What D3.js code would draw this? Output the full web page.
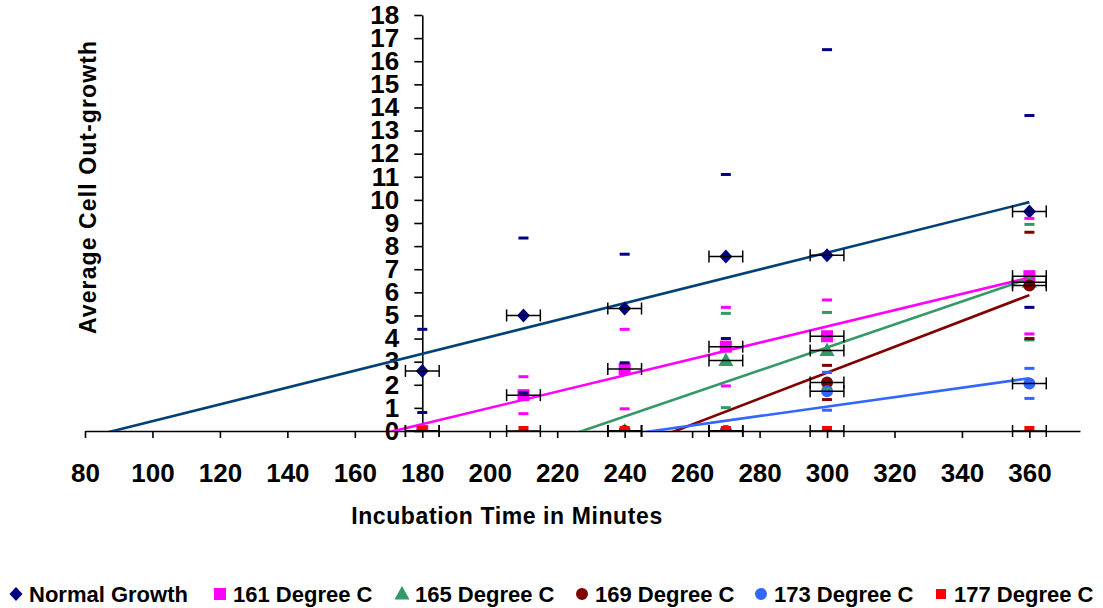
<!doctype html>
<html lang=en>

<head>
  <meta charset=utf-8>
  <title>Average Cell Out-growth</title>
  <style>
    body { margin: 0; background: #fff; }
    text { font-family: Arial, "Liberation Sans", sans-serif; }
  </style>
</head>

<body>
  <svg></svg>
  <script src="https://d3js.org/d3.v7.min.js"></script>
  <script>
    // ---- data ----
    var times = [180, 210, 240, 270, 300, 360];
    var timeErr = 5;

    var normalTimes = [180, 210, 240, 270, 300, 360];
    var normalVals = [2.6, 5.0, 5.3, 7.55, 7.6, 9.5];
    var normalErr = [1.8, 3.35, 2.35, 3.55, 8.9, 4.15];

    var deg161Times = [180, 210, 240, 270, 300, 360];
    var deg161Vals = [0, 1.55, 2.68, 3.65, 4.1, 6.7];
    var deg161Err = [0, 0.8, 1.72, 1.7, 1.57, 2.5];

    var deg165Times = [240, 270, 300, 360];
    var deg165Vals = [0, 3.05, 3.48, 6.44];
    var deg165Err = [0, 2.04, 1.65, 2.5];

    var deg169Times = [240, 270, 300, 360];
    var deg169Vals = [0, 0, 2.1, 6.3];
    var deg169Err = [0, 0, 0.74, 2.3];

    var deg173Times = [270, 300, 360];
    var deg173Vals = [0, 1.72, 2.06];
    var deg173Err = [0, 0.82, 0.65];

    var deg177Times = [180, 210, 240, 270, 300, 360];
    var deg177Vals = [0, 0, 0, 0, 0, 0];

    var seriesNames = ["Normal Growth", "161 Degree C", "165 Degree C",
      "169 Degree C", "173 Degree C", "177 Degree C"];
    var xTicks = [80, 100, 120, 140, 160, 180, 200, 220, 240, 260, 280, 300, 320, 340, 360];
    var yTicks = d3.range(0, 19);

    // ---- styles ----
    var markerColors = ["#000080", "#ff00ff", "#339966", "#800000", "#3366ff", "#ff0000"];
    var lineColors = ["#004077", "#ff00ff", "#339966", "#800000", "#3366ff", "#ff0000"];
    var shapes = ["diamond", "square", "triangle", "circle", "circle", "smallsquare"];

    var series = [
      { t: normalTimes, v: normalVals, e: normalErr },
      { t: deg161Times, v: deg161Vals, e: deg161Err },
      { t: deg165Times, v: deg165Vals, e: deg165Err },
      { t: deg169Times, v: deg169Vals, e: deg169Err },
      { t: deg173Times, v: deg173Vals, e: deg173Err },
      { t: deg177Times, v: deg177Vals, e: deg177Vals }
    ].map(function (s, i) {
      return {
        name: seriesNames[i], color: markerColors[i], lineColor: lineColors[i], shape: shapes[i],
        points: s.t.map(function (t, j) { return { x: t, y: s.v[j], e: s.e[j] }; })
      };
    });

    var width = 1103;
    var height = 608;

    var svg = d3.select("svg")
      .attr("width", width)
      .attr("height", height);

    var x = d3.scaleLinear().domain([80, 375]).range([85, 1080]);
    var y = d3.scaleLinear().domain([0, 18]).range([431, 15]);

    function shapePath(shape) {
      if (shape == "diamond") return "M0,-7L6.5,0L0,7L-6.5,0Z";
      if (shape == "square") return "M-6,-6H6V6H-6Z";
      if (shape == "smallsquare") return "M-5,-5H5V5H-5Z";
      if (shape == "triangle") return "M0,-8L7.5,5.5H-7.5Z";
      return d3.symbol(d3.symbolCircle, 113)();
    }

    // least squares trend line, like the spreadsheet's linear trendline
    function linReg(pts) {
      var mx = d3.mean(pts, function (d) { return d.x; });
      var my = d3.mean(pts, function (d) { return d.y; });
      var sxy = d3.sum(pts, function (d) { return (d.x - mx) * (d.y - my); });
      var sxx = d3.sum(pts, function (d) { return (d.x - mx) * (d.x - mx); });
      var b = sxy / sxx;
      return function (xv) { return my + b * (xv - mx); };
    }

    svg.append("clipPath").attr("id", "plot")
      .append("rect")
      .attr("x", x(80)).attr("y", y(18))
      .attr("width", x(375) - x(80)).attr("height", y(0) - y(18));

    // axes
    var xAxis = svg.append("g")
      .attr("transform", "translate(0," + y(0) + ")")
      .call(d3.axisBottom(x).tickValues(xTicks).tickSize(7).tickSizeOuter(0).tickPadding(26));
    xAxis.selectAll("text").style("font-size", "26px").style("font-weight", "bold").attr("fill", "#000");

    var yAxis = svg.append("g")
      .attr("transform", "translate(" + x(180) + ",0)")
      .call(d3.axisLeft(y).tickValues(yTicks).tickSize(8).tickSizeOuter(0).tickPadding(15));
    yAxis.selectAll("text").style("font-size", "26px").style("font-weight", "bold").attr("fill", "#000");

    svg.selectAll(".domain").attr("stroke", "#000").attr("stroke-width", 1.6);
    svg.selectAll(".tick line").attr("stroke", "#000").attr("stroke-width", 1.6);

    // trendlines
    var plot = svg.append("g").attr("clip-path", "url(#plot)");
    var line = d3.line()
      .x(function (d) { return x(d[0]); })
      .y(function (d) { return y(d[1]); });

    series.forEach(function (s) {
      if (d3.max(s.points, function (d) { return d.y; }) == 0) return;
      var f = linReg(s.points);
      plot.append("path")
        .datum([[80, f(80)], [360, f(360)]])
        .attr("fill", "none")
        .attr("stroke", s.lineColor)
        .attr("stroke-width", 2.6)
        .attr("d", line);
    });

    // markers
    series.forEach(function (s) {
      plot.append("g").selectAll("path")
        .data(s.points)
        .join("path")
        .attr("transform", function (d) { return "translate(" + x(d.x) + "," + y(d.y) + ")"; })
        .attr("d", shapePath(s.shape))
        .attr("fill", s.color);
    });

    // horizontal error bars (time)
    var errG = svg.append("g").attr("stroke", "#000").attr("stroke-width", 1.5);
    series.forEach(function (s) {
      s.points.forEach(function (d) {
        var x0 = x(d.x - timeErr), x1 = x(d.x + timeErr), yy = y(d.y);
        errG.append("line").attr("x1", x0).attr("x2", x1).attr("y1", yy).attr("y2", yy);
        errG.append("line").attr("x1", x0).attr("x2", x0).attr("y1", yy - 6).attr("y2", yy + 6);
        errG.append("line").attr("x1", x1).attr("x2", x1).attr("y1", yy - 6).attr("y2", yy + 6);
      });
    });

    // vertical error bar caps
    series.forEach(function (s) {
      var caps = [];
      s.points.forEach(function (d) {
        if (d.e > 0) {
          caps.push({ x: d.x, y: d.y + d.e });
          caps.push({ x: d.x, y: d.y - d.e });
        }
      });
      plot.append("g").selectAll("rect")
        .data(caps)
        .join("rect")
        .attr("x", function (d) { return x(d.x) - 5; })
        .attr("y", function (d) { return y(d.y) - 1.5; })
        .attr("width", 10)
        .attr("height", 3)
        .attr("fill", s.color);
    });

    // axis titles
    svg.append("text")
      .attr("transform", "translate(96,187) rotate(-90)")
      .attr("text-anchor", "middle")
      .style("font-size", "23px")
      .style("font-weight", "bold")
      .style("letter-spacing", "1.1px")
      .text("Average Cell Out-growth");

    svg.append("text")
      .attr("x", 507)
      .attr("y", 524)
      .attr("text-anchor", "middle")
      .style("font-size", "23px")
      .style("font-weight", "bold")
      .style("letter-spacing", "0.6px")
      .text("Incubation Time in Minutes");

    // legend
    var legendX = [16, 220, 402, 582, 761, 941];
    var legend = svg.append("g").selectAll("g")
      .data(series)
      .join("g")
      .attr("transform", function (d, i) { return "translate(" + legendX[i] + ",594)"; });
    legend.append("path")
      .attr("d", function (d) { return shapePath(d.shape); })
      .attr("fill", function (d) { return d.color; });
    legend.append("text")
      .attr("x", 13)
      .attr("y", 8)
      .style("font-size", "22px")
      .style("font-weight", "bold")
      .text(function (d) { return d.name; });
  </script>
</body>

</html>
